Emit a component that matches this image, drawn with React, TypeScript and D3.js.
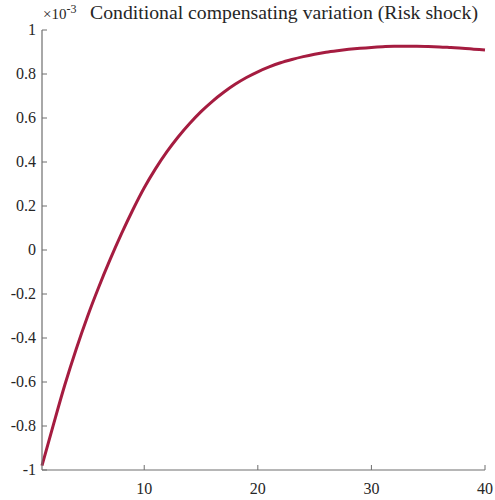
import React from "react";
import * as d3 from "d3";

const periods: number[] = Array.from({ length: 40 }, (_, i) => i + 1);
const ccv: number[] = [
  -0.98, -0.795, -0.615, -0.452, -0.303, -0.168, -0.043, 0.074, 0.183, 0.283,
  0.37, 0.447, 0.515, 0.575, 0.629, 0.676, 0.717, 0.753, 0.784, 0.81,
  0.832, 0.851, 0.866, 0.879, 0.89, 0.899, 0.906, 0.912, 0.917, 0.921,
  0.924, 0.926, 0.926, 0.926, 0.925, 0.923, 0.92, 0.917, 0.913, 0.909,
];
const xTicks: number[] = [10, 20, 30, 40];
const yTicks: number[] = [-1, -0.8, -0.6, -0.4, -0.2, 0, 0.2, 0.4, 0.6, 0.8, 1];
const titleText = "Conditional compensating variation (Risk shock)";

export default function App() {
  const W = 495, H = 500;
  const left = 42, right = 485, top = 30, bottom = 470;
  const x = d3.scaleLinear().domain([1, 40]).range([left, right]);
  const y = d3.scaleLinear().domain([-1, 1]).range([bottom, top]);
  const line = d3.line<number>().x((_, i) => x(periods[i])).y((d) => y(d)).curve(d3.curveMonotoneX);
  const axisColor = "#6e6e6e";
  const textColor = "#262626";
  const fontStyle = { fontFamily: "\"Liberation Serif\", \"DejaVu Serif\", serif" };
  return (
    <svg width={W} height={H} style={{ position: "absolute", left: 0, top: 0, background: "#fff" }}>
      <path d={line(ccv) || ""} fill="none" stroke="#a51c40" strokeWidth={3} strokeLinejoin="round" />
      <line x1={left} x2={left} y1={top} y2={bottom} stroke={axisColor} strokeWidth={1.2} />
      <line x1={left} x2={right} y1={bottom} y2={bottom} stroke={axisColor} strokeWidth={1.2} />
      {yTicks.map((t) => (
        <g key={"y" + t}>
          <line x1={left} x2={left + 5} y1={y(t)} y2={y(t)} stroke={axisColor} strokeWidth={1} />
          <text x={36} y={y(t) + 5} textAnchor="end" style={fontStyle} fontSize={16} fill={textColor}>
            {String(t)}
          </text>
        </g>
      ))}
      {xTicks.map((t) => (
        <g key={"x" + t}>
          <line x1={x(t)} x2={x(t)} y1={bottom} y2={bottom - 5} stroke={axisColor} strokeWidth={1} />
          <text x={x(t)} y={494} textAnchor="middle" style={fontStyle} fontSize={16} fill={textColor}>
            {t}
          </text>
        </g>
      ))}
      <text x={43} y={19} style={fontStyle} fontSize={15} fill={textColor}>
        ×10
        <tspan dy={-6} fontSize={12}>-3</tspan>
      </text>
      <text x={90} y={19} style={fontStyle} fontSize={19} fill={textColor} textLength={388} lengthAdjust="spacingAndGlyphs">
        {titleText}
      </text>
    </svg>
  );
}
